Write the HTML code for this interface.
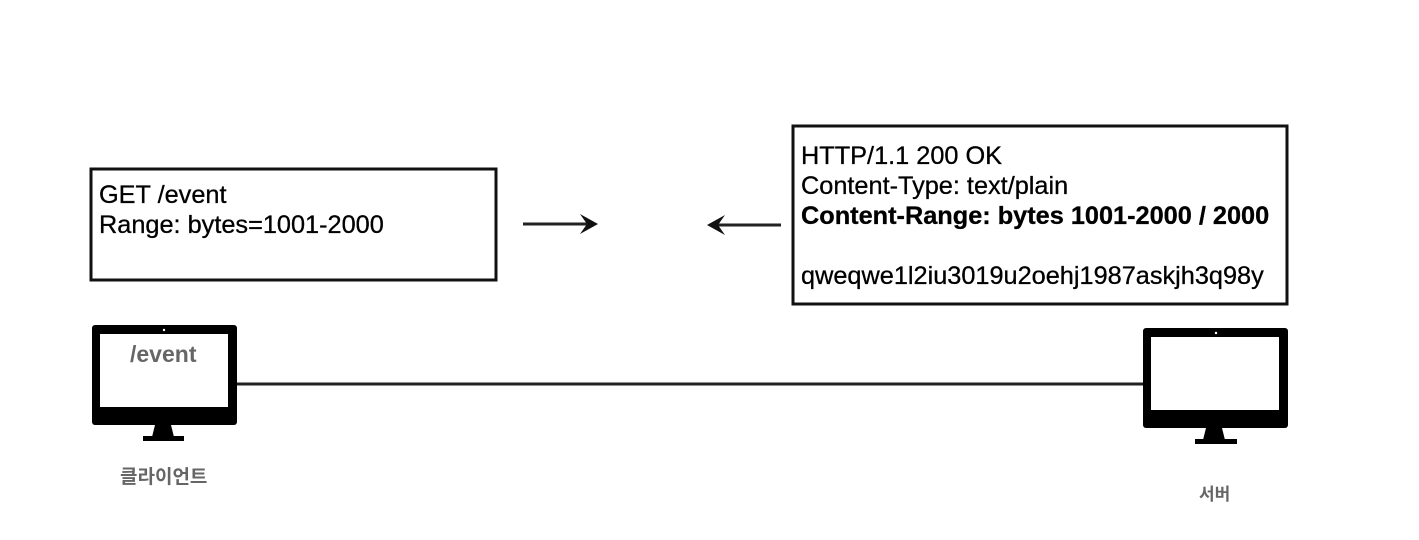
<!DOCTYPE html>
<html><head><meta charset="utf-8"><style>
body{margin:0;width:1419px;height:540px;background:#fff;overflow:hidden;position:relative;font-family:"Liberation Sans","Noto Sans CJK KR",sans-serif}
.t{position:absolute;white-space:nowrap;font-size:25.3px;color:#000;line-height:30px;-webkit-text-stroke:0.3px #000}
</style></head><body>
<svg width="1419" height="540" style="position:absolute;left:0;top:0">
<g fill="none" stroke="#111" stroke-width="3">
<rect x="91" y="169" width="405" height="111"/>
<rect x="793" y="126" width="494" height="178"/>
</g>
<g stroke="#222" stroke-width="3" fill="none">
<line x1="523" y1="224" x2="590" y2="224"/>
<line x1="714" y1="225" x2="781" y2="225"/>
<line x1="236" y1="384" x2="1144" y2="384"/>
</g>
<polygon points="580,214 598,224 580,234 587,224" fill="#111"/>
<polygon points="725,215 707,225 725,235 718,225" fill="#111"/>
<rect x="92" y="325" width="145" height="100" rx="3" fill="#000"/>
<rect x="100" y="334" width="128" height="73" fill="#fff"/>
<circle cx="164" cy="330" r="1.2" fill="#fff"/>
<polygon points="155,425 171,425 174,437 152,437" fill="#000"/>
<rect x="143" y="436" width="41" height="5" fill="#000"/>
<rect x="1143" y="328" width="145" height="100" rx="3" fill="#000"/>
<rect x="1151" y="337" width="128" height="73" fill="#fff"/>
<circle cx="1216" cy="333" r="1.2" fill="#fff"/>
<polygon points="1206,428 1222,428 1225,440 1203,440" fill="#000"/>
<rect x="1195" y="439" width="42" height="5" fill="#000"/>
</svg>
<div class="t" style="left:99px;top:180px">GET /event<br>Range: bytes=1001-2000</div>
<div class="t" style="left:801px;top:141px">HTTP/1.1 200 OK<br>Content-Type: text/plain<br><b>Content-Range: bytes 1001-2000 / 2000</b><br><br>qweqwe1l2iu3019u2oehj1987askjh3q98y</div>
<div class="t" style="left:130px;top:339px;font-weight:bold;color:#666;font-size:23px;-webkit-text-stroke:0">/event</div>
<div class="t" style="left:120px;top:463px;font-weight:bold;color:#666;font-size:19px;-webkit-text-stroke:0">클라이언트</div>
<div class="t" style="left:1199px;top:480px;font-weight:bold;color:#666;font-size:17px;-webkit-text-stroke:0">서버</div>
</body></html>
